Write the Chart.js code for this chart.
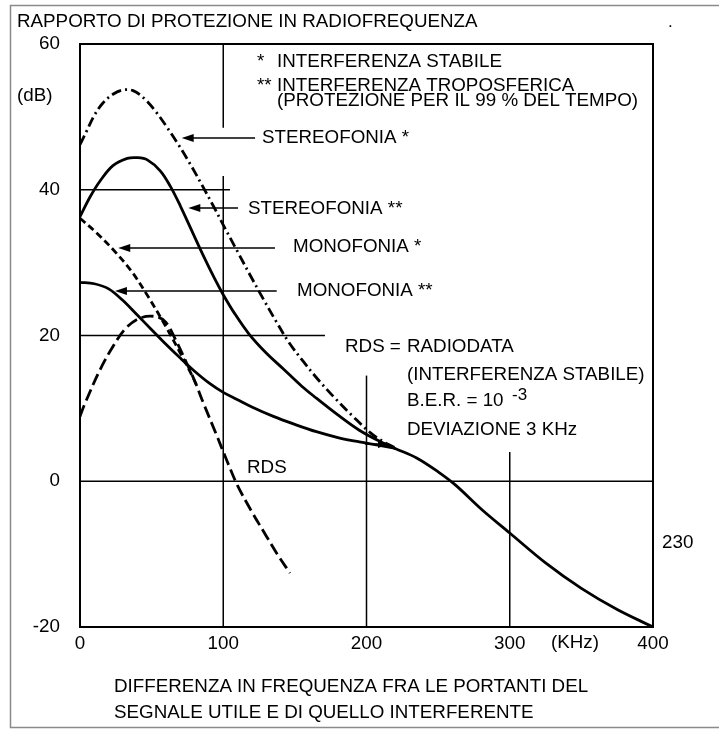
<!DOCTYPE html>
<html>
<head>
<meta charset="utf-8">
<script src="https://cdn.jsdelivr.net/npm/chart.js@4.4.0/dist/chart.umd.min.js"></script>
<style>
  html, body { margin: 0; padding: 0; background: #fff; }
  canvas { display: block; }
</style>
</head>
<body>
<canvas id="chart" width="719" height="729"></canvas>
<script>
// axis ticks
const xTicks = [0, 100, 200, 300, 400];
const yTicks = [-20, 0, 20, 40, 60];

// STEREOFONIA * (interferenza stabile)
const stereoStableX = [0, 5, 10, 16, 23, 30, 37, 45, 53, 61, 69, 77, 85, 93, 101, 110, 119, 128, 137, 146, 156, 166, 178, 190, 203, 212, 220];
const stereoStableY = [46.2, 48.2, 50.2, 51.9, 53.1, 53.7, 53.6, 52.5, 50.7, 48.5, 46.1, 43.5, 40.7, 37.8, 34.8, 31.5, 28.2, 25, 21.9, 19, 16.4, 14, 11.4, 9, 6.6, 5.4, 4.6];

// STEREOFONIA ** (interferenza troposferica) - carries the common tail
const stereoTropoX = [0, 7, 14, 23, 33, 40, 47, 56, 63, 70, 78, 86, 94, 100, 108, 118, 130, 142, 155, 165, 180, 195, 210, 220, 235, 250, 262, 280, 300, 325, 350, 375, 400];
const stereoTropoY = [36.3, 39, 41.2, 43.3, 44.3, 44.4, 44.1, 42.6, 40.5, 37.8, 34.4, 31, 27.8, 25.6, 23, 20.2, 17.6, 15.4, 13, 11.4, 9.1, 7, 5.4, 4.5, 3.2, 1.3, -0.5, -3.8, -7.1, -11.2, -14.7, -17.6, -20];

// MONOFONIA *
const monoStableX = [0, 12, 24, 36, 48, 60, 70, 78, 82];
const monoStableY = [36.1, 34, 31.6, 28.8, 25.2, 21.2, 17.6, 14.6, 12.9];

// MONOFONIA **
const monoTropoX = [0, 10, 20, 30, 40, 50, 60, 70, 80, 90, 100, 110, 120, 135, 150, 165, 180, 195, 210, 220];
const monoTropoY = [27.3, 27.1, 26.4, 24.8, 22.8, 20.8, 18.8, 16.9, 15.1, 13.5, 12.2, 11.2, 10.2, 8.9, 7.8, 6.8, 6, 5.4, 4.9, 4.5];

// RDS
const rdsX = [0, 3.5, 14, 23, 32, 42, 53, 60, 67, 74, 80, 86, 95, 103, 110, 120, 130, 138, 146.6];
const rdsY = [8.9, 10.7, 15.3, 18.5, 21, 22.4, 22.6, 21.8, 19.3, 16.4, 13.8, 10.8, 6.5, 2.6, -0.6, -4.2, -7.5, -10.1, -12.6];

function toPoints(xs, ys) {
  return xs.map((x, i) => ({ x: x, y: ys[i] }));
}

const FONT = '"Liberation Sans", Arial, sans-serif';

// partial grid lines, in data values [x1, y1, x2, y2]
const gridSegments = [
  [100, 60, 100, 48.5],
  [100, 41.9, 100, -20],
  [200, 14.5, 200, -20],
  [300, 4, 300, -20],
  [0, 40, 104.7, 40],
  [0, 20, 171, 20],
  [0, 0, 400, 0],
];

// label arrows [tip x, y, tail x]
const arrows = [
  [71, 47.1, 122.2],
  [75.6, 37.5, 110.3],
  [26.7, 32, 136.1],
  [24.4, 26.1, 137.3],
  [216.4, 5.1, 199],
];

const texts = [
  ["RAPPORTO DI PROTEZIONE IN RADIOFREQUENZA", 17, 22],
  ["(dB)", 17, 96],
  ["*", 257, 62],
  ["INTERFERENZA STABILE", 277, 62],
  ["**", 257, 86],
  ["INTERFERENZA TROPOSFERICA", 277, 86],
  ["(PROTEZIONE PER IL 99 % DEL TEMPO)", 277, 101],
  ["STEREOFONIA *", 262, 138],
  ["STEREOFONIA **", 248, 209],
  ["MONOFONIA *", 293, 247],
  ["MONOFONIA **", 297, 291],
  ["RDS =", 345, 347],
  ["RADIODATA", 407, 347],
  ["(INTERFERENZA STABILE)", 407, 375],
  ["B.E.R. = 10", 407, 401],
  ["DEVIAZIONE 3 KHz", 407, 430],
  ["RDS", 247, 468],
  ["230", 662, 543],
  ["DIFFERENZA IN FREQUENZA FRA LE PORTANTI DEL", 114, 687],
  ["SEGNALE UTILE E DI QUELLO INTERFERENTE", 114, 713],
];

const decorPlugin = {
  id: "decor",
  beforeDatasetsDraw(chart) {
    const ctx = chart.ctx;
    const xs = chart.scales.x;
    const ys = chart.scales.y;
    const area = chart.chartArea;
    ctx.save();
    ctx.strokeStyle = "#000";
    ctx.lineWidth = 1.5;
    gridSegments.forEach(s => {
      ctx.beginPath();
      ctx.moveTo(xs.getPixelForValue(s[0]), ys.getPixelForValue(s[1]));
      ctx.lineTo(xs.getPixelForValue(s[2]), ys.getPixelForValue(s[3]));
      ctx.stroke();
    });
    // plot frame
    ctx.lineWidth = 2;
    ctx.strokeRect(area.left, area.top, area.right - area.left, area.bottom - area.top);

    // arrows
    ctx.lineWidth = 1.5;
    ctx.fillStyle = "#000";
    arrows.forEach(a => {
      const tip = xs.getPixelForValue(a[0]);
      const tail = xs.getPixelForValue(a[2]);
      const y = ys.getPixelForValue(a[1]);
      const dir = tail > tip ? 1 : -1;
      ctx.beginPath();
      ctx.moveTo(tip + dir * 10, y);
      ctx.lineTo(tail, y);
      ctx.stroke();
      ctx.beginPath();
      ctx.moveTo(tip, y);
      ctx.lineTo(tip + dir * 12, y - 4);
      ctx.lineTo(tip + dir * 12, y + 4);
      ctx.closePath();
      ctx.fill();
    });
    ctx.restore();
  },
  afterDraw(chart) {
    const ctx = chart.ctx;
    ctx.save();
    ctx.fillStyle = "#000";
    ctx.font = "18.8px " + FONT;
    ctx.textBaseline = "middle";
    ctx.textAlign = "left";
    texts.forEach(t => ctx.fillText(t[0], t[1], t[2]));
    ctx.font = "17px " + FONT;
    ctx.fillText("-3", 512, 395);
    ctx.fillText(".", 668, 22);
    ctx.font = "18.8px " + FONT;
    ctx.textAlign = "center";
    ctx.fillText("(KHz)", 575, 643);

    // outer frame
    ctx.strokeStyle = "#8a8a8a";
    ctx.lineWidth = 1.5;
    ctx.beginPath();
    ctx.moveTo(719, 5.5);
    ctx.lineTo(10.5, 5.5);
    ctx.lineTo(10.5, 727.5);
    ctx.lineTo(719, 727.5);
    ctx.stroke();
    ctx.restore();
  }
};

const baseLine = {
  borderColor: "#000",
  borderWidth: 2.8,
  pointRadius: 0,
  showLine: true,
  fill: false,
  tension: 0.35,
};

new Chart(document.getElementById("chart"), {
  type: "scatter",
  data: {
    datasets: [
      Object.assign({}, baseLine, { label: "STEREOFONIA *", data: toPoints(stereoStableX, stereoStableY), borderDash: [10, 4, 2, 4] }),
      Object.assign({}, baseLine, { label: "STEREOFONIA **", data: toPoints(stereoTropoX, stereoTropoY) }),
      Object.assign({}, baseLine, { label: "MONOFONIA *", data: toPoints(monoStableX, monoStableY), borderDash: [7, 4] }),
      Object.assign({}, baseLine, { label: "MONOFONIA **", data: toPoints(monoTropoX, monoTropoY) }),
      Object.assign({}, baseLine, { label: "RDS", data: toPoints(rdsX, rdsY), borderDash: [12, 5] }),
    ],
  },
  options: {
    responsive: false,
    animation: false,
    devicePixelRatio: 1,
    layout: { padding: { top: 44, right: 66, left: 0, bottom: 0 } },
    plugins: {
      legend: { display: false },
      tooltip: { enabled: false },
      title: { display: false },
    },
    scales: {
      x: {
        type: "linear",
        min: 0,
        max: 400,
        grid: { display: false, drawTicks: false },
        border: { display: false },
        afterBuildTicks: scale => { scale.ticks = xTicks.map(v => ({ value: v })); },
        afterFit: scale => { scale.height = 102; },
        ticks: { color: "#000", font: { family: FONT, size: 18.8 }, padding: 6, maxRotation: 0 },
      },
      y: {
        type: "linear",
        min: -20,
        max: 60,
        grid: { display: false, drawTicks: false },
        border: { display: false },
        afterBuildTicks: scale => { scale.ticks = yTicks.map(v => ({ value: v })); },
        afterFit: scale => { scale.width = 80; },
        ticks: { color: "#000", font: { family: FONT, size: 18.8 }, padding: 20 },
      },
    },
  },
  plugins: [decorPlugin],
});
</script>
</body>
</html>
